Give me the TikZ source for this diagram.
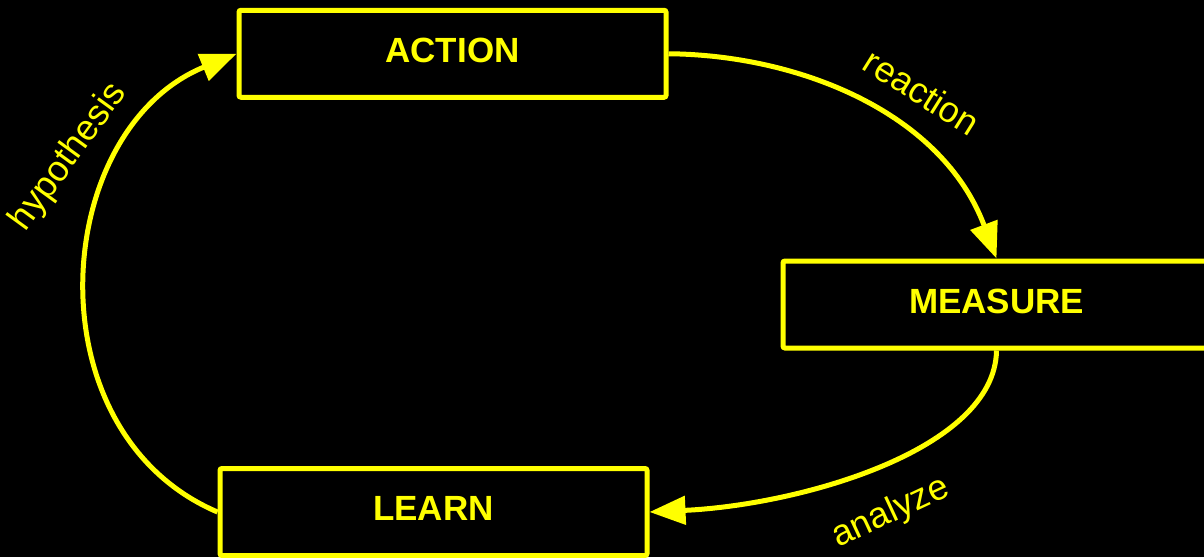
\documentclass[tikz,border=0pt]{standalone}
\usepackage{fontspec}
\setmainfont{Liberation Sans}
\usetikzlibrary{arrows.meta}
\definecolor{yel}{RGB}{255,255,0}
\begin{document}
\begin{tikzpicture}[x=1pt,y=-1pt,
  box/.style={draw=yel, line width=5pt, rounded corners=2pt, minimum width=427pt, minimum height=87pt, inner sep=0pt, text height=24pt, text depth=7pt, font=\fontsize{35}{40}\selectfont\bfseries, text=yel},
  conn/.style={draw=yel, line width=5pt, -{Triangle[length=36pt,width=28pt]}},
  lbl/.style={text=yel, font=\fontsize{36}{40}\selectfont, inner sep=0pt}]
\fill[black] (0,0) rectangle (1204,557);
\useasboundingbox (0,0) rectangle (1204,557);
\node[box] (A) at (452.5,53.75) {ACTION};
\node[box] (M) at (996.5,304.5) {MEASURE};
\node[box] (L) at (433.5,512) {LEARN};
\draw[conn] (L.west) .. controls (30,432) and (50,130) .. (A.west);
\draw[conn] (A.east) .. controls (800,55) and (942,113) .. (M.north);
\draw[conn] (M.south) .. controls (995,450) and (800,505) .. (L.east);
\node[lbl, rotate=54] (hyp) at (69,157) {hypothesis};
\node[lbl, rotate=-32] (rea) at (922,92) {reaction};
\node[lbl, rotate=25] (ana) at (891,513) {analyze};
\end{tikzpicture}
\end{document}
